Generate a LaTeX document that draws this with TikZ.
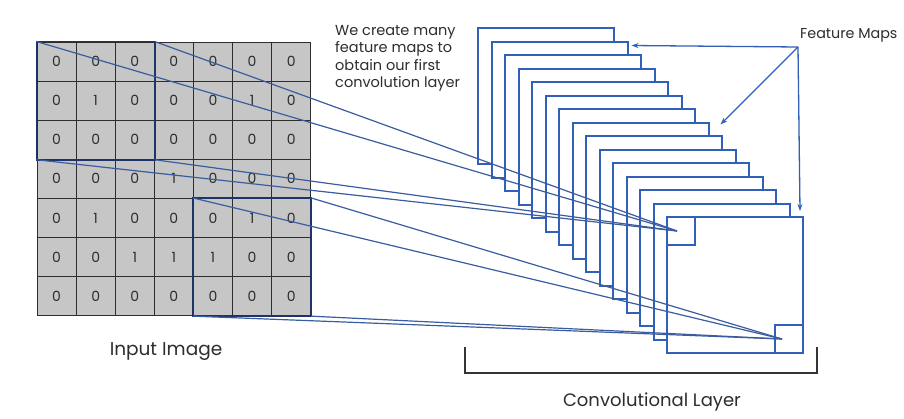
\documentclass[tikz,border=0pt]{standalone}
\usepackage{fontspec}
\setmainfont{Poppins}
\usetikzlibrary{arrows.meta,calc}
\definecolor{gridfill}{RGB}{198,198,198}
\definecolor{gridline}{RGB}{45,45,45}
\definecolor{boxnavy}{RGB}{30,52,104}
\definecolor{linkblue}{RGB}{58,92,160}
\definecolor{mapblue}{RGB}{48,96,184}
\definecolor{txt}{RGB}{45,45,45}
\begin{document}
\begin{tikzpicture}[x=1pt,y=-1pt,
  cell/.style={draw=gridline, fill=gridfill, line width=0.9pt, minimum size=39.1pt,
    inner sep=0pt, font=\fontsize{14}{14}\selectfont, text=txt},
  boxline/.style={draw=boxnavy, line width=1.8pt},
  link/.style={draw=linkblue, line width=1.2pt},
  fmap/.style={draw=mapblue, fill=white, line width=2pt, minimum size=136pt, inner sep=0pt},
  patch/.style={draw=mapblue, line width=2pt, minimum size=28pt, inner sep=0pt},
  ptr/.style={draw=mapblue, line width=1.3pt, -{Stealth[length=7pt,width=5pt]}},
  label/.style={text=txt, inner sep=0pt},
  bracket/.style={draw=black!80, line width=1.5pt}]
\useasboundingbox[fill=white] (0,0) rectangle (904,418);

% input image: 7x7 grid of pixel values
\foreach \row [count=\r from 0] in {{0,0,0,0,0,0,0},{0,1,0,0,0,1,0},{0,0,0,0,0,0,0},
    {0,0,0,1,0,0,0},{0,1,0,0,0,1,0},{0,0,1,1,1,0,0},{0,0,0,0,0,0,0}}{
  \foreach \v [count=\c from 0] in \row {
    \node[cell] (c\r\c) at ({37+39.1*\c+19.55},{42+39.1*\r+19.55}) {\v};
  }
}
% receptive fields
\draw[boxline] (c00.north west) rectangle (c22.south east);
\draw[boxline] (c44.north west) rectangle (c66.south east);

% stack of feature maps, back to front
\foreach \i in {0,...,14}{
  \node[fmap] (fm\i) at ({478+13.5*\i+68},{28+13.5*\i+68}) {};
}
\node[patch, anchor=north west] (pA) at (fm14.north west) {};
\node[patch, anchor=south east] (pB) at (fm14.south east) {};
\coordinate (tA) at ($(pA.north west)+(11,15)$);
\coordinate (tB) at ($(pB.north west)+(8,15)$);

% projections of the receptive fields onto the front map
\foreach \k in {c00.north west, c02.north east, c20.south west, c22.south east}
  \draw[link] (\k) -- (tA);
\foreach \k in {c44.north west, c46.north east, c64.south west, c66.south east}
  \draw[link] (\k) -- (tB);

% labels
\node[label, anchor=north west, align=left, font=\fontsize{14.5}{17.5}\selectfont]
  (note) at (335,25) {We create many\\feature maps to\\obtain our first\\convolution layer};
\node[label, anchor=west, font=\fontsize{14.3}{15}\selectfont] (fmlab) at (800,35) {Feature Maps};
\coordinate (src) at (798,47);
\draw[ptr] (src) -- ($(fm1.north east)+(3,5)$);
\draw[ptr] (src) -- ($(fm7.north east)+(11,3)$);
\draw[ptr] (src) -- ($(fm14.north east)+(-4,-5)$);

\node[label, font=\fontsize{18.5}{19}\selectfont] (inlab) at (166,352) {Input Image};

\coordinate (bl) at (465,347);
\coordinate (br) at (817,347);
\draw[bracket] (bl) |- (br |- 0,373) -- (br);
\node[label, font=\fontsize{18}{18}\selectfont] (convlab) at (652,402) {Convolutional Layer};
\end{tikzpicture}
\end{document}
